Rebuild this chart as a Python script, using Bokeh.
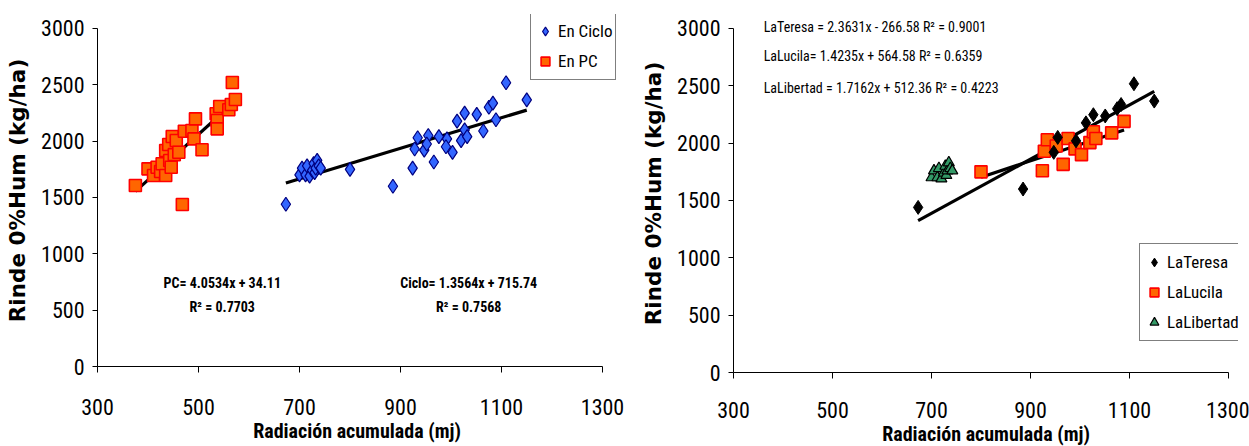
from bokeh.plotting import figure
from bokeh.models import Label, Legend, LegendItem, FixedTicker, Range1d
from bokeh.layouts import row
from bokeh.embed import file_html
from bokeh.resources import INLINE

# ---- data -----------------------------------------------------------------
x_ticks = [300, 500, 700, 900, 1100, 1300]
y_ticks = [0, 500, 1000, 1500, 2000, 2500, 3000]

# sowing-to-harvest ("En PC") observations
pc_x = [375, 400, 411, 418, 425, 428, 435, 435, 441, 443, 446, 448, 452, 456,
        461, 468, 472, 487, 491, 494, 507, 535, 537, 537, 542, 560, 565, 567, 573]
pc_y = [1606, 1754, 1695, 1769, 1730, 1799, 1917, 1695, 1970, 1828, 1769, 2041,
        1880, 2006, 1902, 1438, 2088, 2095, 2020, 2198, 1923, 2243, 2183, 2109,
        2308, 2278, 2325, 2521, 2370]

# whole-cycle ("En Ciclo") observations, by site
teresa_x = [673, 885, 947, 955, 992, 1012, 1027, 1051, 1075, 1083, 1109, 1150]
teresa_y = [1440, 1600, 1920, 2050, 2020, 2177, 2248, 2237, 2301, 2337, 2518, 2367]

lucila_x = [800, 924, 928, 934, 952, 966, 976, 990, 1003, 1020, 1027, 1032, 1064, 1089]
lucila_y = [1750, 1760, 1930, 2030, 1975, 1815, 2040, 1950, 1900, 2005, 2100, 2040, 2090, 2190]

libertad_x = [700, 705, 712, 715, 720, 725, 728, 730, 732, 735, 738, 742]
libertad_y = [1700, 1760, 1700, 1780, 1690, 1740, 1800, 1720, 1760, 1830, 1780, 1760]

ciclo_x = teresa_x + lucila_x + libertad_x
ciclo_y = teresa_y + lucila_y + libertad_y

# linear fits (slope, intercept)
pc_fit = (4.0534, 34.11)
ciclo_fit = (1.3564, 715.74)
teresa_fit = (2.3631, -266.58)
lucila_fit = (1.4235, 564.58)

NARROW = "'Liberation Sans Narrow', 'Roboto Condensed', 'DejaVu Sans Condensed', 'Liberation Sans', sans-serif"
WIDE = "DejaVu Sans"

ORANGE, RED = "#FF6600", "#FF0000"
BLUE, NAVY = "#3366FF", "#000080"
GREEN = "#339966"


def fit_line(p, xs, fit):
    x0, x1 = min(xs), max(xs)
    m, b = fit
    p.line([x0, x1], [m * x0 + b, m * x1 + b], line_color="black", line_width=3.2)


def make_fig(fw, fh, left, right, top, bottom, x_end, y_end, lab_off):
    # the frame reaches a little past 1300 / 3000 so that the legend and the
    # equations above the plot are not clipped; the axes stop at the last tick
    p = figure(frame_width=fw, frame_height=fh, min_border_left=left,
               min_border_right=right, min_border_top=top, min_border_bottom=bottom,
               x_range=Range1d(300, x_end), y_range=Range1d(0, y_end),
               output_backend="svg", toolbar_location=None,
               background_fill_color="white", border_fill_color="white")
    p.outline_line_color = None
    p.grid.visible = False
    p.xaxis.ticker = FixedTicker(ticks=x_ticks)
    p.yaxis.ticker = FixedTicker(ticks=y_ticks)
    p.xaxis.bounds = (300, 1300)
    p.yaxis.bounds = (0, 3000)
    for ax in (p.xaxis[0], p.yaxis[0]):
        ax.axis_line_color = "black"
        ax.major_tick_line_color = "black"
        ax.major_tick_in = 0
        ax.major_tick_out = 6
        ax.minor_tick_line_color = None
        ax.major_label_text_font = NARROW
        ax.major_label_text_font_size = "22px"
        ax.major_label_text_color = "black"
        ax.axis_label_text_color = "black"
        ax.axis_label_text_font_style = "bold"
    p.xaxis.axis_label = "Radiación acumulada (mj)"
    p.xaxis.axis_label_text_font = NARROW
    p.xaxis.axis_label_text_font_size = "20px"
    p.xaxis.major_label_standoff = lab_off
    p.xaxis.axis_label_standoff = 1
    p.yaxis.axis_label = "Rinde 0%Hum (kg/ha)"
    p.yaxis.axis_label_text_font = WIDE
    p.yaxis.axis_label_text_font_size = "21.5px"
    p.yaxis.major_tick_out = 5
    p.yaxis.major_label_standoff = 8
    p.yaxis.axis_label_standoff = 8
    return p


def make_legend(items, loc):
    return Legend(items=items, location=loc, orientation="vertical",
                  border_line_color="black", border_line_width=1,
                  background_fill_color="white", background_fill_alpha=1.0,
                  padding=3, spacing=0, margin=0,
                  glyph_width=22, glyph_height=30, label_standoff=2,
                  label_text_font=NARROW, label_text_font_size="17px",
                  label_text_color="black")


# ---- left panel: PC vs whole cycle ----------------------------------------
left = make_fig(519, 352, 97, 9, 14, 80, 1327.7, 3124, 26)
fit_line(left, pc_x, pc_fit)
fit_line(left, ciclo_x, ciclo_fit)
r_ciclo = left.scatter(ciclo_x, ciclo_y, marker="diamond", size=14,
                       fill_color=BLUE, line_color=NAVY, line_width=1.2)
r_pc = left.scatter(pc_x, pc_y, marker="square", size=12,
                    fill_color=ORANGE, line_color=RED, line_width=1.6)

left.add_layout(make_legend([LegendItem(label="En Ciclo", renderers=[r_ciclo]),
                             LegendItem(label="En PC", renderers=[r_pc])],
                            (433, 286)))

for txt, xx, yy in [("PC= 4.0534x + 34.11", 547, 745),
                    ("R\u00b2 = 0.7703", 547, 524),
                    ("Ciclo= 1.3564x + 715.74", 1035, 745),
                    ("R\u00b2 = 0.7568", 1035, 524)]:
    left.add_layout(Label(x=xx, y=yy, text=txt, text_align="center",
                          text_baseline="middle", text_font=NARROW,
                          text_font_style="bold", text_font_size="14px",
                          text_color="black"))

# ---- right panel: whole cycle by site -------------------------------------
right = make_fig(505, 358, 108, 11, 12, 76, 1320.2, 3122, 23)
fit_line(right, teresa_x, teresa_fit)
fit_line(right, lucila_x, lucila_fit)
r_lib = right.scatter(libertad_x, libertad_y, marker="triangle", size=11,
                      fill_color=GREEN, line_color="black", line_width=1.2)
r_luc = right.scatter(lucila_x, lucila_y, marker="square", size=12,
                      fill_color=ORANGE, line_color=RED, line_width=1.6)
r_ter = right.scatter(teresa_x, teresa_y, marker="diamond", size=14,
                      fill_color="black", line_color="black")

right.add_layout(make_legend([LegendItem(label="LaTeresa", renderers=[r_ter]),
                              LegendItem(label="LaLucila", renderers=[r_luc]),
                              LegendItem(label="LaLibertad", renderers=[r_lib])],
                             (406, 31)))

for txt, yy in [("LaTeresa = 2.3631x - 266.58 R\u00b2 = 0.9001", 3009),
                ("LaLucila= 1.4235x + 564.58 R\u00b2 = 0.6359", 2764),
                ("LaLibertad = 1.7162x + 512.36 R\u00b2 = 0.4223", 2485)]:
    right.add_layout(Label(x=361, y=yy, text=txt, text_align="left",
                           text_baseline="middle", text_font=NARROW,
                           text_font_size="14px", text_color="black"))

layout = row(left, right)
open("out.html", "w").write(file_html(layout, INLINE))
